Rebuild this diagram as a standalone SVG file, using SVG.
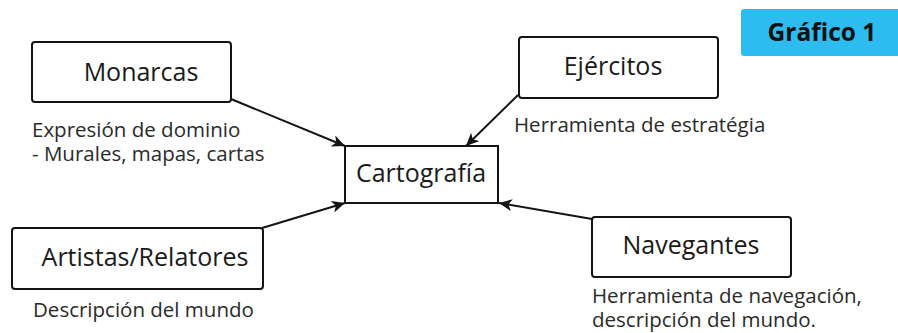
<svg xmlns="http://www.w3.org/2000/svg" width="898" height="333" viewBox="0 0 898 333">
  <style>
    .box { fill: #ffffff; stroke: #141414; stroke-width: 2; }
    .label { font-family: "Open Sans", "DejaVu Sans", sans-serif; font-size: 25px; fill: #1a1a1a; text-anchor: middle; }
    .note { font-family: "Open Sans", "DejaVu Sans", sans-serif; font-size: 20.5px; fill: #2a2a2a; }
    .link { stroke: #141414; stroke-width: 2; fill: none; marker-end: url(#arrow); }
    .badge-text { font-family: "Open Sans", "DejaVu Sans", sans-serif; font-size: 24.5px; font-weight: bold; fill: #111111; text-anchor: middle; }
  </style>
  <defs>
    <marker id="arrow" markerUnits="userSpaceOnUse" markerWidth="14" markerHeight="12" refX="13" refY="6" orient="auto">
      <path d="M0,0 L13,6 L0,12 L3.5,6 Z" fill="#141414"/>
    </marker>
  </defs>
  <rect width="898" height="333" fill="#ffffff"/>

  <!-- title badge -->
  <g id="badge">
    <rect x="741" y="9" width="160" height="47" rx="3" fill="#2dbcef"/>
    <text class="badge-text" x="822" y="41">Gráfico 1</text>
  </g>

  <!-- connectors -->
  <g id="connectors">
    <line class="link" x1="231" y1="99" x2="345" y2="146"/>
    <line class="link" x1="518" y1="95" x2="466" y2="146"/>
    <line class="link" x1="262" y1="228" x2="345" y2="203"/>
    <line class="link" x1="592" y1="219" x2="499" y2="203"/>
  </g>

  <g id="monarcas">
    <rect class="box" x="32" y="42" width="199" height="60" rx="3"/>
    <text class="label" x="141" y="81">Monarcas</text>
    <text class="note" x="32" y="137">Expresión de dominio<tspan x="32" dy="24">- Murales, mapas, cartas</tspan></text>
  </g>

  <g id="ejercitos">
    <rect class="box" x="519" y="37" width="199" height="61" rx="3"/>
    <text class="label" x="613" y="75">Ejércitos</text>
    <text class="note" x="514" y="132">Herramienta de estratégia</text>
  </g>

  <g id="cartografia">
    <rect class="box" x="345" y="146" width="153" height="57"/>
    <text class="label" x="421" y="182">Cartografía</text>
  </g>

  <g id="artistas">
    <rect class="box" x="12" y="228" width="251" height="61" rx="3"/>
    <text class="label" x="145" y="266">Artistas/Relatores</text>
    <text class="note" x="33" y="317">Descripción del mundo</text>
  </g>

  <g id="navegantes">
    <rect class="box" x="592" y="217" width="199" height="60" rx="3"/>
    <text class="label" x="691" y="254">Navegantes</text>
    <text class="note" x="592" y="303">Herramienta de navegación,<tspan x="592" dy="24">descripción del mundo.</tspan></text>
  </g>
</svg>
